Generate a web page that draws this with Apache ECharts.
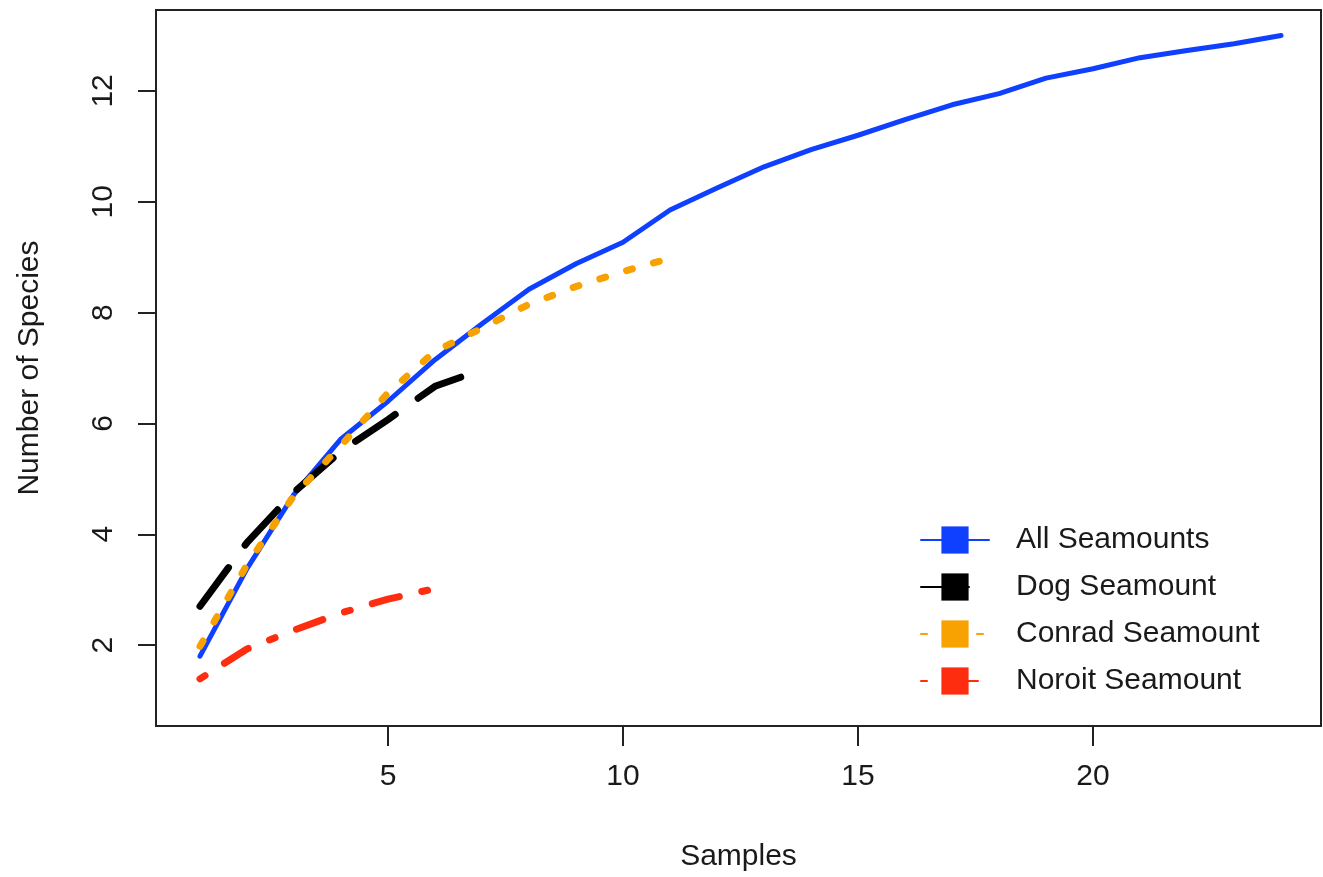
<!DOCTYPE html>
<html><head><meta charset="utf-8">
<script src="https://cdn.jsdelivr.net/npm/echarts@6/dist/echarts.min.js"></script>
<style>html,body{margin:0;padding:0;background:#fff}#chart{width:1323px;height:877px}</style>
</head><body><div id="chart"></div>
<script>
const samples = [1,2,3,4,5,6,7,8,9,10,11,12,13,14,15,16,17,18,19,20,21,22,23,24];
const allSeamounts = [1.80,3.38,4.72,5.72,6.40,7.15,7.80,8.42,8.88,9.27,9.85,10.25,10.63,10.94,11.20,11.48,11.75,11.95,12.23,12.40,12.60,12.73,12.85,13.00];
const dogSeamount = [2.70,3.85,4.76,5.50,6.07,6.67,6.97];
const conradSeamount = [1.98,3.45,4.70,5.60,6.55,7.30,7.72,8.15,8.47,8.74,8.98];
const noroitSeamount = [1.39,1.93,2.27,2.58,2.83,3.02];
const xTicks = [5,10,15,20];
const yTicks = [2,4,6,8,10,12];
const seriesNames = ['All Seamounts','Dog Seamount','Conrad Seamount','Noroit Seamount'];

const FONT = 'Liberation Sans, Arial, Helvetica, sans-serif';
const TXT = '#1a1a1a';
function pairs(arr){ return arr.map((v,i)=>[samples[i], v]); }

const styles = [
  {color:'#1040ff', width:5, type:'solid'},
  {color:'#000000', width:7, type:[48,28]},
  {color:'#f7a200', width:7, type:[6,22]},
  {color:'#ff2d10', width:7, type:[6,23,28,23]}
];
const values = [allSeamounts, dogSeamount, conradSeamount, noroitSeamount];

const chart = echarts.init(document.getElementById('chart'), null, {renderer:'canvas'});
chart.setOption({
  animation:false,
  backgroundColor:'#ffffff',
  grid:{left:156, right:2, top:10, bottom:150, show:true, borderColor:'#222', borderWidth:2, backgroundColor:'transparent'},
  xAxis:{
    type:'value', min:0.064, max:24.85,
    splitLine:{show:false}, axisLine:{show:false},
    axisTick:{show:true, length:20, lineStyle:{color:'#222', width:2}, customValues:xTicks},
    axisLabel:{customValues:xTicks, margin:36, fontSize:30, fontFamily:FONT, color:TXT},
    name:'Samples', nameLocation:'middle', nameGap:116,
    nameTextStyle:{fontSize:30, fontFamily:FONT, color:TXT}
  },
  yAxis:{
    type:'value', min:0.54, max:13.46,
    splitLine:{show:false}, axisLine:{show:false},
    axisTick:{show:true, length:18, lineStyle:{color:'#222', width:2}, customValues:yTicks},
    axisLabel:{customValues:yTicks, rotate:90, margin:37, fontSize:30, fontFamily:FONT, color:TXT},
    name:'Number of Species', nameLocation:'middle', nameGap:111, nameRotate:90,
    nameTextStyle:{fontSize:30, fontFamily:FONT, color:TXT}
  },
  legend:{
    data:seriesNames, orient:'vertical', left:915, top:520,
    itemWidth:68, itemHeight:34, itemGap:17,
    textStyle:{fontSize:30, fontFamily:FONT, color:TXT, padding:[0,0,0,22]}
  },
  series: seriesNames.map((n,i)=>({
    name:n, type:'line', data:pairs(values[i]),
    symbol:'rect', showSymbol:false, silent:true,
    itemStyle:{color:styles[i].color},
    lineStyle:{color:styles[i].color, width:styles[i].width, type:styles[i].type, cap:'round', join:'round'},
    emphasis:{disabled:true}
  }))
});
</script></body></html>
